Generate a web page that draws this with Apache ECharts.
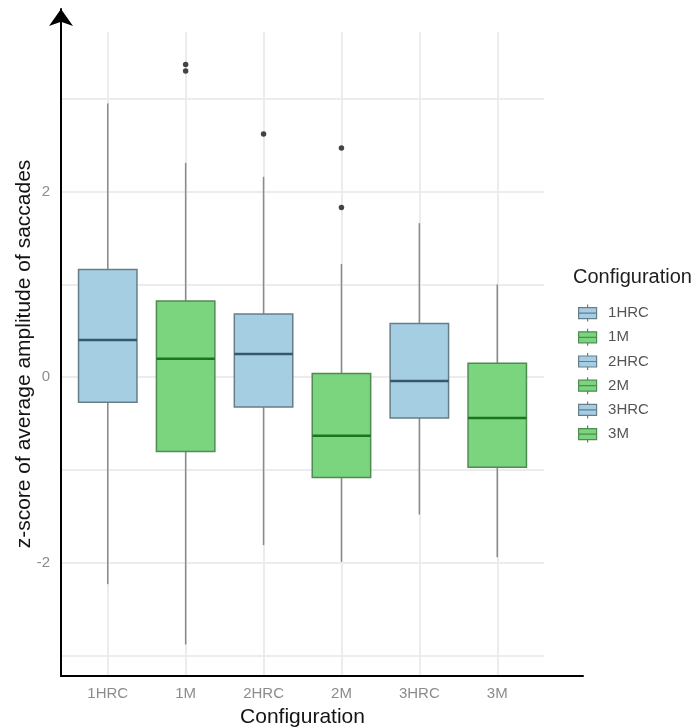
<!DOCTYPE html>
<html>
<head>
<meta charset="utf-8">
<script src="https://cdn.jsdelivr.net/npm/echarts@6/dist/echarts.min.js"></script>
<style>
  html, body { margin: 0; padding: 0; background: #ffffff; }
  #chart { width: 694px; height: 727px; }
</style>
</head>
<body>
<div id="chart"></div>
<script>
// ---- data ----
const categories   = ['1HRC', '1M', '2HRC', '2M', '3HRC', '3M'];
const positions    = [1, 2, 3, 4, 5, 6];
const whiskerLow   = [-2.23, -2.88, -1.81, -1.99, -1.48, -1.94];
const q1           = [-0.27, -0.80, -0.32, -1.08, -0.44, -0.97];
const median       = [0.40, 0.20, 0.25, -0.63, -0.04, -0.44];
const q3           = [1.16, 0.82, 0.68, 0.04, 0.58, 0.15];
const whiskerHigh  = [2.95, 2.31, 2.16, 1.22, 1.66, 1.00];
const outlierCategory = ['1M', '1M', '2HRC', '2M', '2M'];
const outlierValue    = [3.37, 3.30, 2.62, 2.47, 1.83];
const yTickLabels  = [-2, 0, 2];
const yGridValues  = [-3, -2, -1, 0, 1, 2, 3];

// ---- styles ----
const palette = {
  HRC: { fill: '#a6cee3', border: '#667d8a', median: '#36586c' },
  M:   { fill: '#7bd57e', border: '#4f8c52', median: '#1b7422' }
};
const whiskerColor = '#8a8a8a';
const gridColor = '#ececec';

function styleFor(name) { return name.indexOf('HRC') >= 0 ? palette.HRC : palette.M; }

const chart = echarts.init(document.getElementById('chart'), null, { renderer: 'canvas' });

const boxSeries = categories.map(function (name, i) {
  const st = styleFor(name);
  return {
    name: name,
    type: 'custom',
    xAxisIndex: 0,
    yAxisIndex: 0,
    itemStyle: { color: st.fill, borderColor: st.border, borderWidth: 1 },
    encode: { x: 0, y: [1, 2, 3, 4, 5] },
    data: [[positions[i], whiskerLow[i], q1[i], median[i], q3[i], whiskerHigh[i]]],
    renderItem: function (params, api) {
      const x = api.value(0);
      const pLow = api.coord([x, api.value(1)]);
      const pQ1 = api.coord([x, api.value(2)]);
      const pMed = api.coord([x, api.value(3)]);
      const pQ3 = api.coord([x, api.value(4)]);
      const pHigh = api.coord([x, api.value(5)]);
      const w = api.size([0.75, 0])[0];
      const cx = pMed[0];
      return {
        type: 'group',
        children: [
          { type: 'line', shape: { x1: cx, y1: pQ3[1], x2: cx, y2: pHigh[1] },
            style: { stroke: whiskerColor, lineWidth: 1.5 } },
          { type: 'line', shape: { x1: cx, y1: pQ1[1], x2: cx, y2: pLow[1] },
            style: { stroke: whiskerColor, lineWidth: 1.5 } },
          { type: 'rect', shape: { x: cx - w / 2, y: pQ3[1], width: w, height: pQ1[1] - pQ3[1] },
            style: { fill: st.fill, stroke: st.border, lineWidth: 1.5 } },
          { type: 'line', shape: { x1: cx - w / 2, y1: pMed[1], x2: cx + w / 2, y2: pMed[1] },
            style: { stroke: st.median, lineWidth: 2.5 } }
        ]
      };
    }
  };
});

const outlierSeries = {
  name: 'outliers',
  type: 'scatter',
  xAxisIndex: 0,
  yAxisIndex: 0,
  symbol: 'circle',
  symbolSize: 5.5,
  itemStyle: { color: '#161616' },
  z: 5,
  data: outlierCategory.map(function (c, k) {
    return [positions[categories.indexOf(c)], outlierValue[k]];
  })
};

const axisNameStyle = { fontFamily: 'Liberation Sans, Arial, sans-serif', fontSize: 21, color: '#141414' };
const tickLabelStyle = { fontFamily: 'Liberation Sans, Arial, sans-serif', fontSize: 15, color: '#8c8c8c' };

const option = {
  animation: false,
  backgroundColor: '#ffffff',
  title: {
    text: 'Configuration',
    left: 573,
    top: 267,
    padding: 0,
    textStyle: { fontFamily: 'Liberation Sans, Arial, sans-serif', fontSize: 20, fontWeight: 'normal', color: '#1e1e1e' }
  },
  legend: {
    data: categories,
    orient: 'vertical',
    left: 578,
    top: 304,
    padding: 0,
    itemWidth: 19,
    itemHeight: 17,
    itemGap: 6,
    selectedMode: false,
    icon: 'path://M0.5,3H18.5V14H0.5Z M0.5,8.5H18.5 M9.5,0V3 M9.5,14V17',
    itemStyle: { borderWidth: 1.2 },
    textStyle: { fontFamily: 'Liberation Sans, Arial, sans-serif', fontSize: 15, color: '#555555', padding: [0, 0, 0, 6] }
  },
  grid: [
    { left: 61, right: 150, top: 32, bottom: 51, containLabel: false, outerBoundsMode: 'none' },
    { left: 61, right: 111, top: 9, bottom: 51, containLabel: false, outerBoundsMode: 'none' }
  ],
  xAxis: [
    {
      gridIndex: 0,
      type: 'value',
      min: 0.4,
      max: 6.6,
      axisLine: { show: false, onZero: false },
      axisTick: { show: false, customValues: positions },
      axisLabel: {
        customValues: positions,
        formatter: function (v) { return categories[Math.round(v) - 1]; },
        margin: 10,
        ...tickLabelStyle
      },
      splitLine: { show: true, lineStyle: { color: gridColor, width: 2 } },
      name: 'Configuration',
      nameLocation: 'middle',
      nameGap: 31,
      nameMoveOverlap: false,
      nameTextStyle: axisNameStyle
    },
    {
      gridIndex: 1,
      type: 'value',
      min: 0,
      max: 1,
      axisLine: { show: true, onZero: false, lineStyle: { color: '#000000', width: 2 } },
      axisTick: { show: false },
      axisLabel: { show: false },
      splitLine: { show: false }
    }
  ],
  yAxis: [
    {
      gridIndex: 0,
      type: 'value',
      min: -3.22,
      max: 3.72,
      axisLine: { show: false, onZero: false },
      axisTick: { show: false, customValues: yGridValues },
      axisLabel: { customValues: yTickLabels, margin: 11, ...tickLabelStyle },
      splitLine: { show: true, lineStyle: { color: gridColor, width: 2 } },
      name: 'z-score of average amplitude of saccades',
      nameLocation: 'middle',
      nameGap: 26,
      nameMoveOverlap: false,
      nameTextStyle: axisNameStyle
    },
    {
      gridIndex: 1,
      type: 'value',
      min: 0,
      max: 1,
      axisLine: {
        show: true,
        onZero: false,
        symbol: ['none', 'arrow'],
        symbolSize: [18, 17],
        lineStyle: { color: '#000000', width: 2 }
      },
      axisTick: { show: false },
      axisLabel: { show: false },
      splitLine: { show: false }
    }
  ],
  series: boxSeries.concat([outlierSeries])
};

chart.setOption(option);
</script>
</body>
</html>
